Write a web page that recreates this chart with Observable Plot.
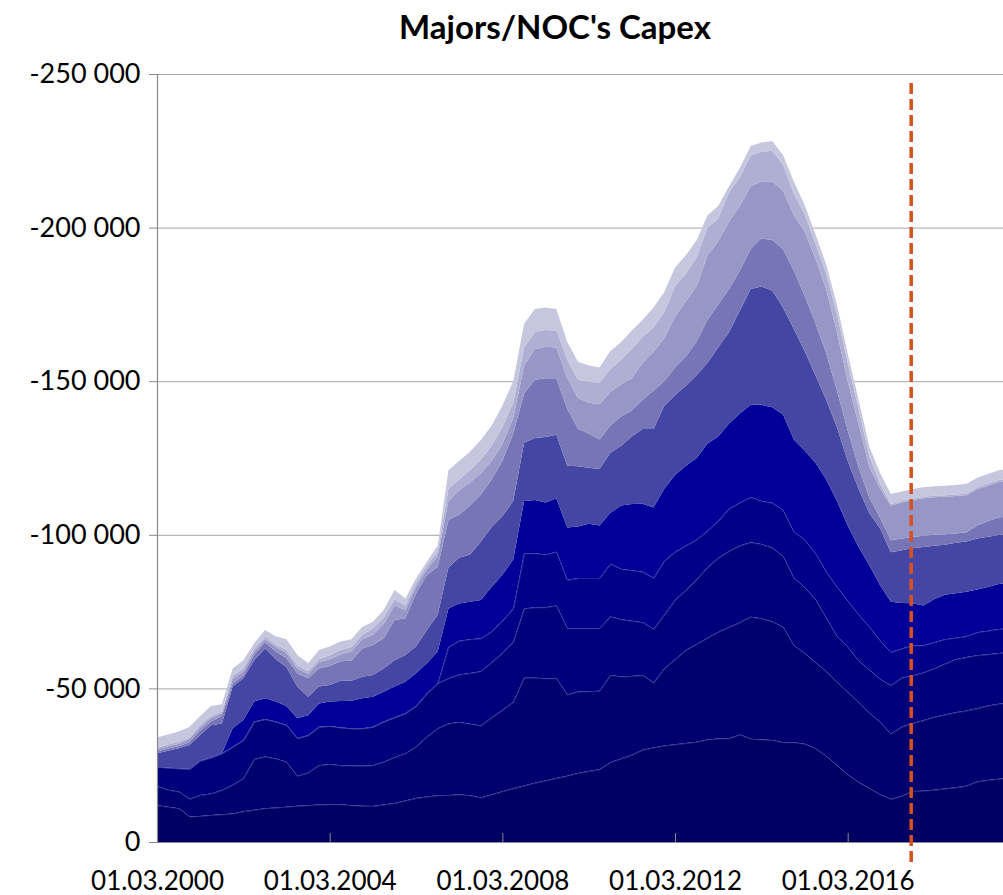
<!DOCTYPE html>
<html>
<head>
<meta charset="utf-8">
<script src="https://cdn.jsdelivr.net/npm/d3@7"></script>
<script src="https://cdn.jsdelivr.net/npm/@observablehq/plot@0.6"></script>
<style>
  html, body { margin: 0; padding: 0; background: #fff; }
  #wrap { position: relative; width: 1003px; height: 895px; overflow: hidden; font-family: Lato, "Open Sans", sans-serif; }
  #title { position: absolute; left: 0; top: 10px; width: 1110px; text-align: center; font-weight: bold; font-size: 33px; line-height: 33px; color: #000; z-index: 2; }
  #chart { position: absolute; left: 0; top: 0; }
</style>
</head>
<body>
<div id="wrap">
  <div id="title">Majors/NOC's Capex</div>
  <div id="chart"></div>
</div>
<script>
// Quarterly observation dates
const dates = [
"2000-03-01","2000-06-01","2000-09-01","2000-12-01","2001-03-01","2001-06-01","2001-09-01","2001-12-01",
"2002-03-01","2002-06-01","2002-09-01","2002-12-01","2003-03-01","2003-06-01","2003-09-01","2003-12-01",
"2004-03-01","2004-06-01","2004-09-01","2004-12-01","2005-03-01","2005-06-01","2005-09-01","2005-12-01",
"2006-03-01","2006-06-01","2006-09-01","2006-12-01","2007-03-01","2007-06-01","2007-09-01","2007-12-01",
"2008-03-01","2008-06-01","2008-09-01","2008-12-01","2009-03-01","2009-06-01","2009-09-01","2009-12-01",
"2010-03-01","2010-06-01","2010-09-01","2010-12-01","2011-03-01","2011-06-01","2011-09-01","2011-12-01",
"2012-03-01","2012-06-01","2012-09-01","2012-12-01","2013-03-01","2013-06-01","2013-09-01","2013-12-01",
"2014-03-01","2014-06-01","2014-09-01","2014-12-01","2015-03-01","2015-06-01","2015-09-01","2015-12-01",
"2016-03-01","2016-06-01","2016-09-01","2016-12-01","2017-03-01","2017-06-01","2017-09-01","2017-12-01",
"2018-03-01","2018-06-01","2018-09-01","2018-12-01","2019-03-01","2019-06-01","2019-09-01","2019-12-01"];

// Stacked capex series (bottom layer first)
const s1 = [-12000,-11500,-11000,-8300,-8500,-8800,-9000,-9300,-10000,-10500,
-11000,-11200,-11500,-11800,-12000,-12200,-12300,-12300,-12000,-11800,
-11700,-12200,-12700,-13500,-14300,-14800,-15200,-15300,-15500,-15200,
-14500,-15500,-16500,-17500,-18400,-19300,-20000,-20800,-21600,-22500,
-23100,-23700,-26000,-27200,-28400,-30000,-30800,-31400,-31800,-32200,
-32600,-33400,-33700,-33800,-35000,-33600,-33400,-33200,-32500,-32500,
-32000,-30500,-28000,-25000,-22000,-19500,-17500,-15500,-14000,-15000,
-16600,-16700,-17000,-17400,-17800,-18300,-19700,-20200,-20600,-20800];
const s2 = [-6200,-5500,-5400,-5700,-6800,-7000,-7900,-9300,-10700,-16500,
-16800,-16000,-14600,-9700,-10600,-12800,-13100,-12700,-12900,-13000,
-13300,-13900,-14900,-15400,-16700,-19500,-21800,-23300,-23600,-23300,
-23400,-25000,-26500,-28100,-35100,-34200,-33300,-32500,-26400,-26500,
-26000,-25500,-28400,-26700,-25600,-24400,-21000,-25100,-27700,-30300,
-31900,-33100,-34700,-36200,-36500,-39700,-39400,-38600,-37500,-31500,
-29500,-28000,-27500,-27000,-26800,-26000,-24500,-23500,-21200,-22500,
-22100,-22900,-23700,-24100,-24400,-24500,-23800,-24200,-24400,-24700];
const s3 = [-6300,-7200,-7600,-9800,-11200,-11700,-12000,-12400,-12500,-12200,
-12200,-12000,-12000,-12300,-12200,-12500,-12400,-12300,-12100,-12200,
-12500,-13100,-13000,-13000,-13300,-14100,-14700,-14700,-15400,-16500,
-17700,-18000,-18500,-19600,-22500,-22900,-23100,-23700,-21600,-20600,
-20500,-20400,-19000,-18600,-18000,-17100,-17500,-17500,-19300,-19500,
-21000,-22900,-24100,-24700,-25000,-24300,-24200,-24000,-23000,-22000,
-21500,-20500,-17500,-15000,-14700,-13500,-14000,-14000,-15800,-16000,
-15500,-15600,-15800,-16500,-17300,-17400,-17300,-16700,-16500,-16200];
const s4 = [0,0,0,0,0,0,0,0,0,0,
0,0,0,0,0,0,0,0,0,0,
0,0,0,0,0,0,0,-10200,-11000,-11000,
-10700,-10000,-10500,-10800,-18000,-17600,-17200,-17500,-15700,-16300,
-16300,-16300,-17200,-16400,-16500,-16500,-16600,-17500,-15700,-14500,
-13000,-11900,-12000,-13800,-14000,-14700,-14000,-14600,-15000,-15000,
-15500,-15000,-15000,-16000,-15000,-15000,-14000,-12500,-10800,-9500,
-9800,-8800,-8500,-8000,-7000,-6800,-7500,-7700,-7800,-7800];
const s5 = [0,0,0,0,0,0,0,-6000,-6500,-6500,
-6800,-6500,-6200,-6500,-6500,-7600,-7900,-8600,-9000,-9800,
-9800,-9700,-10000,-10300,-10600,-9800,-10300,-12500,-12100,-12200,
-12500,-14500,-15000,-16000,-17000,-17300,-16900,-17400,-17100,-16800,
-17700,-17100,-16600,-20600,-21500,-22100,-23000,-23500,-25000,-26000,
-26500,-28400,-27500,-27700,-29000,-30000,-31300,-31100,-31200,-30000,
-29000,-29500,-30000,-28000,-24500,-22000,-20000,-18000,-16400,-14800,
-13700,-13000,-14000,-14500,-14500,-14500,-13900,-14200,-14700,-14800];
const s6 = [-4400,-5500,-6500,-7800,-8300,-10500,-9700,-13600,-13600,-13500,
-16200,-13800,-12700,-10300,-6000,-5500,-5400,-6600,-6500,-7000,
-7100,-7600,-8600,-8700,-8700,-10800,-12000,-13400,-14900,-15400,
-18900,-19500,-19000,-19000,-19000,-20200,-21300,-20700,-20100,-19600,
-18200,-18400,-19500,-19500,-22000,-24300,-25500,-27000,-26000,-26000,
-27000,-26300,-29000,-29800,-33500,-37700,-38500,-38000,-34800,-36000,
-32500,-28500,-26000,-24000,-21000,-19000,-17000,-18500,-16100,-17200,
-17900,-19000,-17400,-16300,-16400,-16300,-16600,-16400,-15900,-15900];
const s7 = [-600,-700,-700,-900,-1500,-1200,-2400,-900,-900,-1800,
-2000,-2500,-2800,-4300,-6000,-5900,-6200,-6300,-6500,-9200,
-9700,-9800,-13100,-11900,-17300,-17900,-15600,-15400,-14000,-15900,
-15300,-15500,-18000,-22000,-16000,-19000,-19200,-18400,-18500,-12200,
-11200,-9600,-8900,-9500,-8500,-9600,-12600,-8000,-9000,-9500,
-11000,-14000,-14000,-14000,-13000,-13000,-15700,-16500,-19000,-19000,
-18000,-17000,-15000,-12000,-10000,-7000,-5000,-3500,-3900,-3800,
-3700,-3700,-3600,-3400,-3000,-3000,-4200,-5100,-5700,-5800];
const s8 = [-800,-800,-800,-1000,-1000,-1100,-1000,-1500,-1300,-1000,
-1000,-1500,-1700,-1600,-1500,-2000,-2200,-2200,-3000,-3000,
-3400,-4700,-4700,-2700,-2100,-1900,-3400,-6200,-8000,-7500,
-7000,-6000,-5500,-5000,-9000,-10000,-10200,-10000,-10000,-10000,
-10000,-11500,-10900,-10500,-10500,-12000,-12500,-14000,-16500,-18000,
-18000,-21000,-20500,-22000,-21000,-20500,-18500,-19000,-19000,-18000,
-21000,-21000,-21000,-19000,-16000,-14000,-10000,-9500,-11300,-11700,
-12000,-12200,-12200,-12200,-12200,-12100,-11800,-11500,-11600,-11700];
const s9 = [-500,-500,-600,-500,-700,-700,-500,-1000,-1000,-1000,
-800,-800,-1000,-1000,-800,-1000,-1300,-1500,-1500,-1500,
-2000,-2000,-2000,-1500,-1300,-1200,-1500,-4000,-3500,-4000,
-4500,-5000,-5500,-5000,-6000,-5500,-5500,-5500,-6000,-6000,
-6800,-7000,-7500,-8000,-9500,-8500,-8000,-8500,-10000,-9000,
-9500,-9000,-7500,-9500,-9500,-10000,-9700,-10000,-8500,-7000,
-5500,-5000,-5000,-6000,-6000,-5000,-3500,-1500,-500,-500,
-500,-500,-500,-500,-500,-500,-600,-600,-600,-600];
const s10 = [-3200,-3300,-3400,-3500,-3000,-3300,-2300,-2500,-2700,-1700,
-2200,-2700,-3500,-3400,-2600,-3000,-2800,-2800,-2500,-2500,
-2200,-2500,-3000,-2300,-1500,-1200,-2000,-6000,-6000,-6000,
-6400,-6500,-7000,-7000,-7700,-7500,-7300,-7000,-5800,-5800,
-5300,-5000,-5800,-5800,-6000,-5500,-6500,-6500,-6000,-6000,
-5500,-4000,-4000,-2000,-3000,-3100,-3000,-3200,-3100,-4000,
-3000,-3000,-3000,-3000,-3000,-3000,-3100,-3500,-3300,-3100,
-3100,-3100,-3100,-3100,-3100,-3200,-3200,-3200,-3200,-3200];

const seriesNames = ["S1","S2","S3","S4","S5","S6","S7","S8","S9","S10"];
const seriesValues = [s1,s2,s3,s4,s5,s6,s7,s8,s9,s10];
const seriesColors = ["#000064","#00006e","#00007a","#000088","#000099","#4545a3","#7676b6","#9696c7","#afafd3","#c6c6df"];
const borderOpacity = [0.55,0.55,0.55,0.55,0,0,0,0,0,0];

const yTicks = [-250000,-200000,-150000,-100000,-50000,0];
const xTicks = ["2000-03-01","2004-03-01","2008-03-01","2012-03-01","2016-03-01"];
const xDomain = ["2000-03-01","2019-10-06"];
const cutoff = [{date: "2017-08-16", from: 6500, to: -247400}];

const parse = s => new Date(s + "T00:00:00Z");
const rows = [];
seriesNames.forEach((name, k) => {
  dates.forEach((d, i) => rows.push({date: parse(d), series: name, value: seriesValues[k][i], op: borderOpacity[k]}));
});

// Capex is negative; the axis grows upward towards more negative values.
// Plot the magnitude so that zero-valued layers stack in place, and label ticks with the signed value.
const mag = d => -d.value;
const fmt = d3.formatLocale({decimal: ",", thousands: " ", grouping: [3], currency: ["", ""], minus: "-"}).format(",");
const signedLabel = m => (m === 0 ? "0" : fmt(-m));
const dfmt = d3.utcFormat("%d.%m.%Y");

const chart = Plot.plot({
  width: 1003,
  height: 895,
  marginLeft: 157,
  marginRight: 0,
  marginTop: 74,
  marginBottom: 53,
  style: {fontFamily: "Lato, 'Open Sans', sans-serif", fontSize: "27px", color: "#000", background: "transparent", overflow: "visible"},
  x: {type: "utc", domain: xDomain.map(parse)},
  y: {domain: [-yTicks[yTicks.length - 1], -yTicks[0]]},
  color: {domain: seriesNames, range: seriesColors},
  opacity: {type: "identity"},
  marks: [
    Plot.gridY(yTicks.map(v => -v), {stroke: "#a6a6a6", strokeOpacity: 1, strokeWidth: 1}),
    Plot.areaY(rows, {x: "date", y: mag, z: "series", fill: "series", order: null, clip: true}),
    Plot.lineY(rows, Plot.stackY2({x: "date", y: mag, z: "series", order: null, stroke: "#5c5cb4", strokeWidth: 0.8, strokeOpacity: "op", clip: true})),
    Plot.ruleX([parse(xDomain[0])], {stroke: "#8a8a8a", strokeWidth: 1.2}),
    Plot.ruleY([0], {stroke: "#8a8a8a", strokeWidth: 1.2}),
    Plot.axisY(yTicks.map(v => -v), {tickSize: 8, tickPadding: 9, stroke: "#8a8a8a", fill: "#000", tickFormat: signedLabel}),
    Plot.axisX(xTicks.map(parse), {tickSize: -9, tickPadding: 38, stroke: "#8a8a8a", fill: "#000", tickFormat: dfmt, fontSize: 26}),
    Plot.ruleX(cutoff, {x: d => parse(d.date), y1: d => -d.from, y2: d => -d.to, stroke: "#d4521f", strokeWidth: 3.5, strokeDasharray: "11,5"})
  ]
});
document.getElementById("chart").appendChild(chart);
</script>
</body>
</html>
